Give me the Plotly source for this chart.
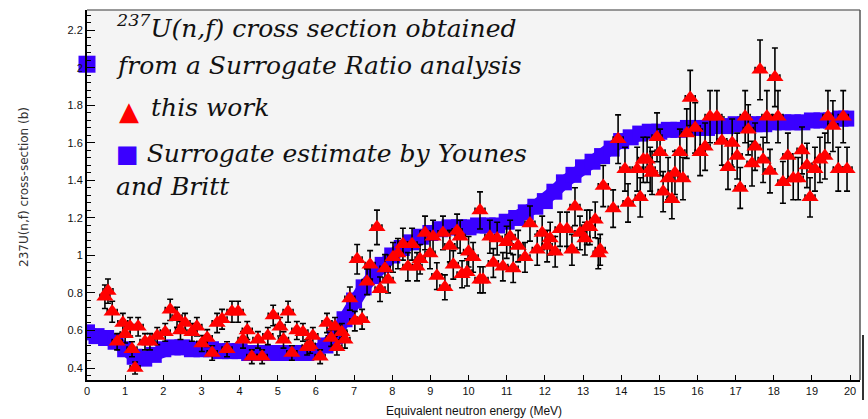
import plotly.graph_objects as go

# Surrogate estimate by Younes and Britt (blue band)
younes_E = [0, 0.25, 0.5, 0.75, 1.0, 1.25, 1.5, 1.75, 2.0, 2.25, 2.5, 2.75, 3.0, 3.25, 3.5, 3.75,
            4.0, 4.25, 4.5, 4.75, 5.0, 5.25, 5.5, 5.75, 6.0, 6.25, 6.5, 6.75, 7.0, 7.25, 7.5, 7.75,
            8.0, 8.25, 8.5, 8.75, 9.0, 9.25, 9.5, 9.75, 10.0, 10.25, 10.5, 10.75, 11.0, 11.25, 11.5,
            11.75, 12.0, 12.25, 12.5, 12.75, 13.0, 13.25, 13.5, 13.75, 14.0, 14.25, 14.5, 14.75,
            15.0, 15.25, 15.5, 15.75, 16.0, 16.25, 16.5, 16.75, 17.0, 17.25, 17.5, 17.75, 18.0,
            18.25, 18.5, 18.75, 19.0, 19.25, 19.5, 19.75, 19.9]
younes_xs = [0.59, 0.57, 0.56, 0.54, 0.50, 0.46, 0.45, 0.47, 0.50, 0.51, 0.51, 0.50, 0.50, 0.50, 0.49, 0.49,
             0.49, 0.48, 0.48, 0.48, 0.48, 0.48, 0.48, 0.48, 0.49, 0.52, 0.57, 0.66, 0.76, 0.83, 0.89, 0.95,
             1.00, 1.04, 1.07, 1.10, 1.12, 1.14, 1.15, 1.15, 1.15, 1.16, 1.16, 1.16, 1.18, 1.20, 1.23,
             1.26, 1.29, 1.34, 1.39, 1.43, 1.47, 1.50, 1.53, 1.57, 1.61, 1.63, 1.65, 1.66,
             1.66, 1.67, 1.67, 1.68, 1.68, 1.68, 1.69, 1.69, 1.70, 1.70, 1.70, 1.70, 1.71,
             1.71, 1.71, 1.71, 1.72, 1.72, 1.72, 1.73, 1.73]

# stray square at the left edge
stray_E = [0.0]
stray_xs = [2.02]

# this work (red triangles)
this_E = [0.47, 0.55, 0.66, 0.79, 0.94, 1.13, 1.18, 1.26, 1.34, 1.52, 1.65, 1.84, 2.05, 2.18, 2.36,
          2.57, 2.75, 2.88, 3.01, 3.28, 3.41, 3.54, 3.67, 3.80, 3.96, 4.09, 4.32, 4.48, 4.59, 4.74,
          4.88, 5.06, 5.27, 5.37, 5.50, 5.66, 5.77, 5.92, 6.11, 6.29, 6.50, 6.55, 6.68, 6.76, 6.89,
          7.02, 7.21, 7.08, 7.34, 7.42, 7.60, 7.68, 7.81, 7.89, 8.02, 8.15, 8.28, 8.41, 8.52, 8.65,
          8.73, 8.86, 8.99, 9.07, 9.17, 9.33, 9.38, 9.51, 9.70, 9.83, 9.78, 9.96, 10.12, 10.30, 10.30,
          10.38, 10.56, 10.75, 10.90, 11.09, 11.17, 11.30, 11.48, 11.61, 11.80, 11.93, 12.06, 12.14,
          12.27, 12.40, 12.58, 12.71, 12.79, 12.92, 13.05, 13.18, 13.32, 13.40, 13.53, 13.79, 13.92,
          14.10, 14.18, 14.42, 14.50, 14.68, 14.81, 14.58, 14.76, 14.94, 15.02, 15.10, 15.23, 15.33,
          15.41, 15.54, 15.62, 15.72, 15.81, 15.94, 16.07, 16.20, 16.33, 16.51, 16.64, 16.80, 16.91,
          17.04, 17.12, 17.25, 17.33, 17.43, 17.51, 17.64, 17.72, 17.82, 17.90, 18.03, 18.11, 18.24,
          18.37, 18.51, 18.64, 18.74, 18.87, 18.95, 19.08, 19.21, 19.34, 19.42, 19.55, 19.69, 19.82,
          19.92, 1.0, 2.45, 3.15, 4.2, 5.15, 5.85, 6.4, 9.6, 10.0, 10.65, 11.0, 13.1, 13.45]
this_xs = [0.78, 0.81, 0.70, 0.54, 0.64, 0.62, 0.50, 0.40, 0.62, 0.54, 0.54, 0.57, 0.59, 0.71, 0.67,
           0.64, 0.59, 0.62, 0.53, 0.48, 0.64, 0.66, 0.50, 0.70, 0.70, 0.55, 0.46, 0.55, 0.46, 0.57,
           0.68, 0.62, 0.70, 0.48, 0.60, 0.59, 0.51, 0.57, 0.46, 0.64, 0.62, 0.51, 0.59, 0.55, 0.77,
           0.65, 0.66, 0.98, 0.86, 0.95, 1.15, 0.82, 0.93, 0.87, 0.99, 1.01, 1.06, 0.94, 1.06, 0.94,
           0.98, 1.12, 1.01, 1.10, 0.89, 1.12, 0.83, 1.05, 1.13, 0.90, 1.10, 0.91, 0.99, 1.24, 0.87,
           0.87, 1.10, 1.09, 0.94, 1.10, 0.93, 1.05, 0.99, 1.17, 1.03, 1.12, 1.05, 1.09,
           1.02, 1.14, 1.14, 1.03, 1.26, 1.12, 1.09, 1.15, 1.19, 1.01, 1.37, 1.25, 1.62,
           1.46, 1.28, 1.46, 1.31, 1.51, 1.44, 1.51, 1.46, 1.63, 1.55, 1.34, 1.41, 1.30,
           1.44, 1.55, 1.41, 1.65, 1.84, 1.68, 1.55, 1.58, 1.74, 1.74, 1.61, 1.47, 1.60,
           1.53, 1.36, 1.74, 1.67, 1.49, 1.58, 1.99, 1.51, 1.74, 1.45, 1.95, 1.74, 1.39,
           1.53, 1.41, 1.41, 1.56, 1.48, 1.31, 1.46, 1.51, 1.53, 1.74, 1.69, 1.46, 1.74,
           1.46, 0.58, 0.60, 0.56, 0.60, 0.55, 0.52, 0.56, 0.95, 1.02, 0.96, 1.07, 1.15, 1.03]

x_ticks = list(range(0, 21))
y_ticks = [0.4, 0.6, 0.8, 1.0, 1.2, 1.4, 1.6, 1.8, 2.0, 2.2]
y_ticklabels = ["0.4", "0.6", "0.8", "1", "1.2", "1.4", "1.6", "1.8", "2", "2.2"]

BLUE = "#3a00ff"
RED = "#ff0000"

fig = go.Figure()

fig.add_trace(go.Scatter(
    x=younes_E, y=younes_xs, mode="lines+markers",
    line=dict(color=BLUE, width=13),
    marker=dict(symbol="square", size=16, color=BLUE, line=dict(width=0)),
    showlegend=False, hoverinfo="skip"))

fig.add_trace(go.Scatter(
    x=stray_E, y=stray_xs, mode="markers", cliponaxis=False,
    marker=dict(symbol="square", size=17, color=BLUE, line=dict(width=0)),
    showlegend=False, hoverinfo="skip"))

fig.add_trace(go.Scatter(
    x=this_E, y=this_xs, mode="markers",
    marker=dict(symbol="triangle-up", size=15, color=RED, line=dict(width=0)),
    error_y=dict(type="percent", value=8, color="black", thickness=1.6, width=3),
    error_x=dict(type="constant", value=0.13, color="black", thickness=1.6, width=3),
    showlegend=False, hoverinfo="skip"))

axis_font = dict(family="Liberation Sans", size=11, color="#111")

fig.update_xaxes(
    range=[0, 20.26], tickvals=x_ticks, ticktext=[str(v) for v in x_ticks],
    ticks="inside", ticklen=5, tickwidth=1, tickcolor="black",
    showline=True, linecolor="black", linewidth=2, showgrid=False, zeroline=False,
    tickfont=axis_font)
fig.update_yaxes(
    range=[0.336, 2.309], tickvals=y_ticks, ticktext=y_ticklabels,
    ticks="inside", ticklen=8, tickwidth=1, tickcolor="black",
    minor=dict(ticks="inside", ticklen=4, dtick=0.04, tick0=0.4, tickcolor="black"),
    showline=True, linecolor="black", linewidth=2, showgrid=False, zeroline=False,
    tickfont=axis_font)

serif = dict(family="DejaVu Serif", size=25, color="#111", style="italic")

def px_x(px):
    return (px - 87) / 773.0

def px_y(py):
    return (380 - py) / 370.0

square_sym = ("<span style='color:%s;font-family:DejaVu Sans;font-size:24px;"
              "font-style:normal'>■</span>" % BLUE)

annots = [
    dict(text="<sup>237</sup>U(n,f) cross section obtained", x=px_x(114), y=px_y(27), font=serif),
    dict(text="from a Surrogate Ratio analysis", x=px_x(114), y=px_y(65), font=serif),
    dict(text="▲", x=px_x(117), y=px_y(111), font=dict(family="DejaVu Sans", size=26, color=RED)),
    dict(text="this work", x=px_x(149), y=px_y(108), font=serif),
    dict(text=square_sym + " Surrogate estimate by Younes<br>and Britt",
         x=px_x(114), y=px_y(170), font=serif, align="left"),
]
for a in annots:
    fig.add_annotation(xref="paper", yref="paper", xanchor="left", yanchor="middle",
                       showarrow=False, **a)

fig.add_annotation(text="237U(n,f) cross-section (b)", xref="paper", yref="paper",
                   x=px_x(24), y=px_y(187), textangle=-90, showarrow=False,
                   xanchor="center", yanchor="middle",
                   font=dict(family="DejaVu Sans", size=12, color="#333"))
fig.add_annotation(text="Equivalent neutron energy (MeV)", xref="paper", yref="paper",
                   x=px_x(474), y=px_y(411), showarrow=False,
                   xanchor="center", yanchor="middle",
                   font=dict(family="Liberation Sans", size=12, color="#111"))

# frame: top and right borders
fig.add_shape(type="line", xref="paper", yref="paper", x0=0, x1=1, y0=1, y1=1,
              line=dict(color="#777", width=1.5))
fig.add_shape(type="line", xref="paper", yref="paper", x0=1, x1=1, y0=0, y1=1,
              line=dict(color="#555", width=1.5))
fig.add_shape(type="line", xref="paper", yref="paper", x0=px_x(863), x1=px_x(863),
              y0=px_y(400), y1=px_y(335), line=dict(color="#333", width=2))

fig.update_layout(
    width=868, height=419,
    margin=dict(l=87, r=8, t=10, b=39),
    plot_bgcolor="#f4f4f4", paper_bgcolor="white",
    showlegend=False)

fig.write_html("out.html")
